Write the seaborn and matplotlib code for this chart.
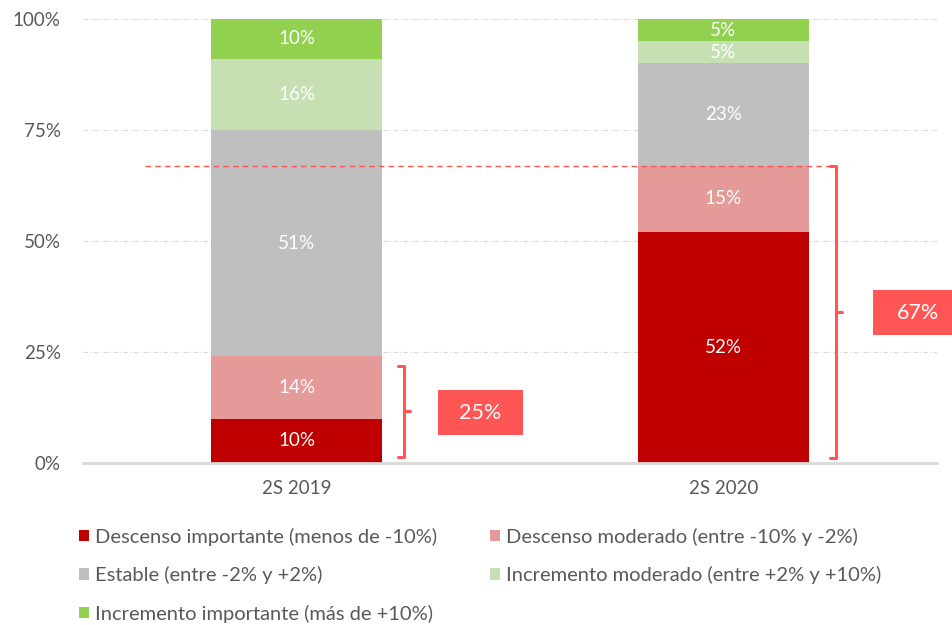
import numpy as np
import pandas as pd
import matplotlib
matplotlib.use('Agg')
import matplotlib.pyplot as plt
from matplotlib.patches import Patch, Rectangle
import seaborn as sns

periods = ['2S 2019', '2S 2020']
categories = [
    'Descenso importante (menos de -10%)',
    'Descenso moderado (entre -10% y -2%)',
    'Estable (entre -2% y +2%)',
    'Incremento moderado (entre +2% y +10%)',
    'Incremento importante (más de +10%)',
]
values_2019 = [10, 14, 51, 16, 10]
values_2020 = [52, 15, 23, 5, 5]
bracket_labels = ['25%', '67%']

colors = ['#C00000', '#E59A9A', '#BFBFBF', '#C6E0B4', '#92D050']
accent = '#FF5555'
grey_txt = '#595959'

sns.set_theme(style='white')
plt.rcParams['font.family'] = ['Lato', 'DejaVu Sans']

vals = np.array([values_2019, values_2020], dtype=float)  # period x category
cum = vals.cumsum(axis=1)

fig = plt.figure(figsize=(9.52, 6.25), dpi=100)
ax = fig.add_axes([0.0872, 0.2592, 0.8968, 0.7104])

# draw cumulative totals from top layer down so each segment shows
for k in range(len(categories) - 1, -1, -1):
    df = pd.DataFrame({'periodo': periods, 'valor': cum[:, k]})
    sns.barplot(data=df, x='periodo', y='valor', color=colors[k],
                width=0.4, saturation=1, linewidth=0, ax=ax, zorder=2)

ax.set_ylim(0, 100)
ax.set_xlim(-0.5, 1.5)

# segment labels
for i in range(len(periods)):
    bottom = 0
    for k, v in enumerate(vals[i]):
        top = min(bottom + v, 100)
        ax.text(i, (bottom + top) / 2, f'{v:.0f}%', ha='center', va='center',
                color='white', fontsize=13.5, zorder=4)
        bottom += v

# grid & spines
ax.set_yticks([0, 25, 50, 75, 100])
ax.set_yticklabels(['0%', '25%', '50%', '75%', '100%'])
ax.yaxis.grid(True, color='#D9D9D9', linestyle=(0, (4, 2, 1, 2)), linewidth=0.8, zorder=0)
ax.xaxis.grid(False)
for s in ['top', 'right', 'left']:
    ax.spines[s].set_visible(False)
ax.spines['bottom'].set_color('#D9D9D9')
ax.spines['bottom'].set_linewidth(2)
ax.tick_params(axis='y', length=0, labelsize=13.5, labelcolor=grey_txt, pad=16)
ax.tick_params(axis='x', length=0, labelsize=13.5, labelcolor=grey_txt, pad=12)
ax.set_xlabel('')
ax.set_ylabel('')

# dashed reference at 2020 declines
decl_2020 = cum[1, 1]
ax.plot([-0.355, 1.262], [decl_2020, decl_2020], color=accent, ls=(0, (4, 3)),
        lw=1, zorder=3)


def bracket(x, y0, y1, w=0.014):
    ym = (y0 + y1) / 2
    ax.plot([x - w, x, x, x - w], [y1, y1, y0, y0], color=accent, lw=2.2,
            solid_joinstyle='round', zorder=3, clip_on=False)
    ax.plot([x, x + w], [ym, ym], color=accent, lw=2.2, zorder=3, clip_on=False)


def label_box(x0, x1, y0, y1, text, tx):
    ax.add_patch(Rectangle((x0, y0), x1 - x0, y1 - y0, fc=accent, ec='none',
                           zorder=5, clip_on=False))
    ax.text(tx, (y0 + y1) / 2, text, ha='center', va='center', color='white',
            fontsize=15.5, zorder=6, clip_on=False)


decl_2019 = cum[0, 1]
bracket(0.252, 1.4, decl_2019 - 2.2)
bracket(1.263, 1.1, decl_2020)

label_box(0.331, 0.530, 6.3, 16.4, bracket_labels[0], 0.4305)
label_box(1.35, 1.56, 28.8, 38.9, bracket_labels[1], 1.455)

handles = [Patch(facecolor=c, edgecolor='none') for c in colors]
order = [0, 2, 4, 1, 3]
fig.legend([handles[i] for i in order], [categories[i] for i in order],
           loc='upper left', bbox_to_anchor=(0.072, 0.172), ncol=2, frameon=False,
           fontsize=14.5, labelcolor=grey_txt, handlelength=0.5, handleheight=0.5,
           handletextpad=0.3, labelspacing=1.02, columnspacing=2.65, borderpad=0)

fig.savefig('out.png', dpi=100)
